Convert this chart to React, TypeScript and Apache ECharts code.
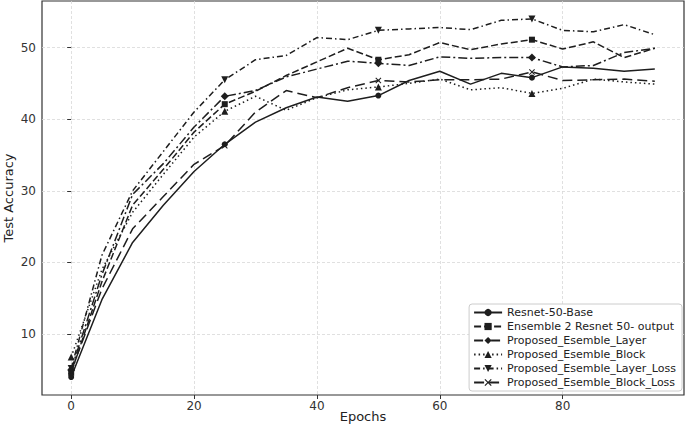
import React, { useEffect, useRef } from "react";
import * as echarts from "echarts";

const epochs = [0, 5, 10, 15, 20, 25, 30, 35, 40, 45, 50, 55, 60, 65, 70, 75, 80, 85, 90, 95];

const seriesNames = [
  "Resnet-50-Base",
  "Ensemble 2 Resnet 50- output",
  "Proposed_Esemble_Layer",
  "Proposed_Esemble_Block",
  "Proposed_Esemble_Layer_Loss",
  "Proposed_Esemble_Block_Loss",
];

const resnetBase = [4.0, 14.8, 22.8, 28.0, 32.7, 36.5, 39.6, 41.6, 43.1, 42.5, 43.3, 45.4, 46.7, 44.9, 46.4, 45.8, 47.3, 47.1, 46.7, 47.0];
const ensembleOutput = [4.6, 17.3, 28.0, 33.0, 38.2, 42.1, 43.9, 46.1, 48.0, 49.9, 48.3, 49.0, 50.7, 49.7, 50.5, 51.1, 49.8, 50.8, 48.6, 49.9];
const esembleLayer = [5.0, 18.3, 29.5, 33.8, 38.9, 43.2, 44.0, 45.9, 47.0, 48.1, 47.8, 47.5, 48.7, 48.5, 48.6, 48.6, 47.3, 47.5, 49.3, 49.9];
const esembleBlock = [6.8, 19.0, 27.0, 32.3, 37.5, 41.1, 43.2, 41.25, 43.0, 44.1, 44.5, 45.0, 45.6, 44.1, 44.4, 43.6, 44.3, 45.6, 45.2, 44.9];
const esembleLayerLoss = [5.2, 21.0, 30.0, 35.5, 41.0, 45.5, 48.3, 48.9, 51.4, 51.1, 52.4, 52.6, 52.8, 52.5, 53.8, 54.0, 52.4, 52.2, 53.2, 51.8];
const esembleBlockLoss = [4.8, 16.3, 24.7, 29.2, 33.7, 36.3, 41.0, 44.0, 43.0, 44.4, 45.4, 45.2, 45.5, 45.5, 45.6, 46.6, 45.4, 45.5, 45.6, 45.3];

const xTicks = [0, 20, 40, 60, 80];
const yTicks = [10, 20, 30, 40, 50];

const allValues = [resnetBase, ensembleOutput, esembleLayer, esembleBlock, esembleLayerLoss, esembleBlockLoss];

const xPath = "path://M0,1.2 L1.2,0 L5,3.8 L8.8,0 L10,1.2 L6.2,5 L10,8.8 L8.8,10 L5,6.2 L1.2,10 L0,8.8 L3.8,5 Z";
const triDown = "path://M0,0 L10,0 L5,10 Z";

const styles = [
  { symbol: "circle", size: 6, dash: "solid" as any },
  { symbol: "rect", size: 6, dash: [7, 3] },
  { symbol: "diamond", size: 8, dash: [9, 3, 2, 3] },
  { symbol: "triangle", size: 7, dash: [1.5, 3] },
  { symbol: triDown, size: 7, dash: [6, 3, 1.5, 3] },
  { symbol: xPath, size: 6, dash: [10, 5] },
];

export default function App() {
  const ref = useRef<HTMLDivElement>(null);
  useEffect(() => {
    if (!ref.current) return;
    const chart = echarts.init(ref.current, undefined, { renderer: "svg" });
    const dataMin = Math.min(...allValues.flat());
    const dataMax = Math.max(...allValues.flat());
    const ypad = (dataMax - dataMin) * 0.05;
    const xpad = (epochs[epochs.length - 1] - epochs[0]) * 0.05;
    const color = "#1e1e1e";
    const series: any[] = allValues.map((vals, si) => ({
      name: seriesNames[si],
      type: "line",
      symbol: styles[si].symbol,
      symbolSize: styles[si].size,
      showSymbol: true,
      showAllSymbol: true,
      color,
      itemStyle: { color },
      lineStyle: { color, width: 1.5, type: styles[si].dash },
      data: vals.map((v, i) =>
        i % 5 === 0 ? { value: [epochs[i], v] } : { value: [epochs[i], v], symbol: "none" }
      ),
      z: 3,
    }));
    chart.setOption({
      animation: false,
      backgroundColor: "#fff",
      textStyle: { fontFamily: "DejaVu Sans" },
      grid: {
        left: 42,
        top: 1,
        right: 1,
        bottom: 33,
        outerBoundsMode: "none",
        containLabel: false,
        show: true,
        borderColor: "#333",
        borderWidth: 1.2,
      },
      legend: {
        orient: "vertical",
        right: 3,
        bottom: 37,
        align: "left",
        itemWidth: 28,
        itemHeight: 9,
        itemGap: 3,
        padding: [3, 6, 3, 4],
        backgroundColor: "#fff",
        borderColor: "#cccccc",
        borderWidth: 1,
        borderRadius: 3,
        textStyle: { fontSize: 11, color: "#222", fontFamily: "DejaVu Sans" },
        data: seriesNames,
        z: 10,
      },
      xAxis: {
        type: "value",
        min: epochs[0] - xpad,
        max: epochs[epochs.length - 1] + xpad,
        name: "Epochs",
        nameLocation: "middle",
        nameGap: 15,
        nameMoveOverlap: false,
        nameTextStyle: { fontSize: 13, color: "#222", fontFamily: "DejaVu Sans" },
        axisLine: { show: false },
        axisTick: { show: true, length: 4, customValues: xTicks, lineStyle: { color: "#333" } },
        axisLabel: { customValues: xTicks, fontSize: 12, color: "#333", margin: 5 },
        splitLine: { show: true, lineStyle: { color: "#d8d8d8", type: [3, 2], width: 0.8 } },
      },
      yAxis: {
        type: "value",
        min: dataMin - ypad,
        max: dataMax + ypad,
        name: "Test Accuracy",
        nameLocation: "middle",
        nameGap: 27,
        nameMoveOverlap: false,
        nameTextStyle: { fontSize: 13, color: "#222", fontFamily: "DejaVu Sans" },
        axisLine: { show: false },
        axisTick: { show: true, length: 4, customValues: yTicks, lineStyle: { color: "#333" } },
        axisLabel: { customValues: yTicks, fontSize: 12, color: "#333", margin: 6 },
        splitLine: { show: true, lineStyle: { color: "#d8d8d8", type: [3, 2], width: 0.8 } },
      },
      series,
    });
    return () => chart.dispose();
  }, []);
  return <div ref={ref} style={{ position: "absolute", left: 0, top: 0, width: 685, height: 428 }} />;
}
